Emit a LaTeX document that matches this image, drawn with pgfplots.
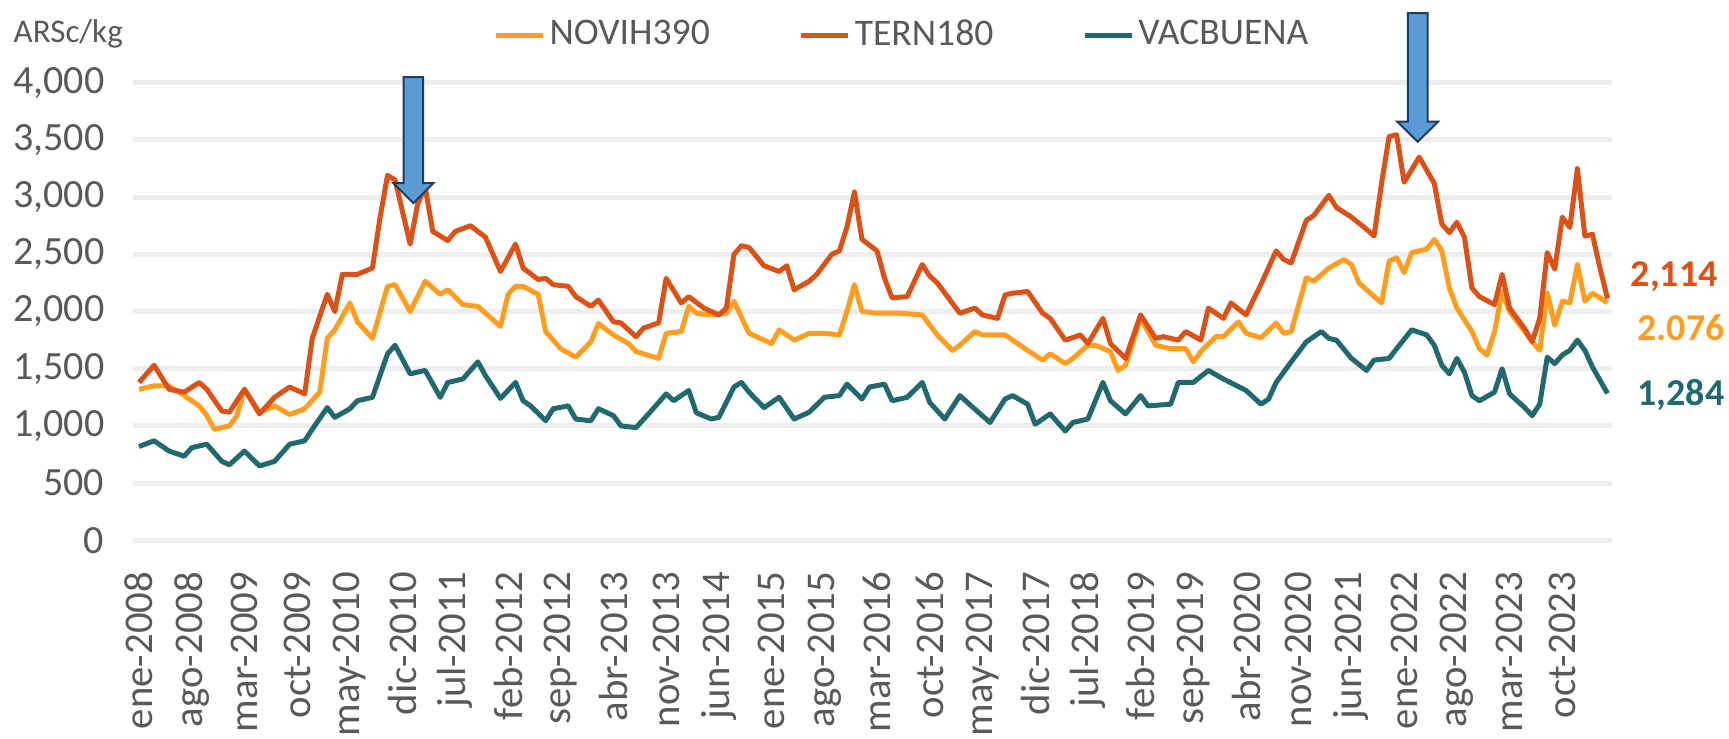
\documentclass[border=0pt]{standalone}
\usepackage{fontspec}
\setmainfont{Carlito}
\usepackage{pgfplots}
\pgfplotsset{compat=1.18}

\definecolor{cTern}{HTML}{DA5218}
\definecolor{cNovi}{HTML}{FF9E22}
\definecolor{cVac}{HTML}{22686F}
\definecolor{cGrid}{HTML}{EEEEEE}
\definecolor{cTxt}{HTML}{595959}
\definecolor{cArrow}{HTML}{5B9BD5}
\definecolor{cArrowEdge}{HTML}{1F3A5F}

% monthly prices, month 0 = ene-2008
\pgfplotstableread{
m v
0 1320
2 1350
4 1350
6 1265
8 1175
9 1090
10 970
12 1000
13 1090
14 1320
16 1120
18 1175
20 1100
22 1150
24 1295
25 1765
26 1840
28 2075
29 1910
31 1765
33 2220
34 2235
36 2000
38 2265
40 2150
41 2190
43 2060
45 2045
48 1870
49 2150
50 2220
51 2220
53 2150
54 1825
56 1675
58 1600
60 1735
61 1895
63 1795
65 1720
66 1650
69 1590
70 1810
72 1825
73 2045
74 1985
76 1970
78 1985
79 2090
81 1810
82 1780
84 1720
85 1840
87 1750
89 1810
91 1810
93 1795
94 2000
95 2235
96 2000
98 1985
101 1985
104 1970
106 1795
108 1660
109 1705
111 1825
112 1795
115 1795
117 1705
118 1660
120 1575
121 1630
123 1545
124 1590
126 1705
127 1705
129 1650
130 1485
131 1530
133 1940
135 1705
137 1675
139 1675
140 1560
141 1650
143 1780
144 1780
146 1910
147 1810
149 1770
151 1900
152 1810
153 1825
155 2295
156 2265
158 2380
160 2455
161 2410
162 2250
163 2190
165 2075
166 2440
167 2470
168 2340
169 2515
171 2545
172 2630
173 2530
174 2205
175 2030
177 1825
178 1675
179 1620
180 1825
181 2175
182 2000
184 1825
185 1735
186 1660
187 2160
188 1880
189 2090
190 2075
191 2410
192 2090
193 2160
194 2120
195 2076
}\novih

\pgfplotstableread{
m v
0 1380
2 1530
4 1320
6 1295
8 1380
9 1320
11 1130
12 1120
14 1320
16 1105
18 1250
20 1340
22 1280
23 1765
25 2150
26 2000
27 2325
29 2325
31 2380
32 2820
33 3190
34 3150
36 2590
37 2940
38 3090
39 2700
41 2620
42 2700
44 2750
46 2650
48 2350
50 2590
51 2380
53 2280
54 2290
55 2235
57 2220
58 2130
60 2045
61 2100
63 1910
64 1900
66 1780
67 1855
69 1900
70 2290
72 2075
73 2130
75 2030
77 1970
78 2030
79 2500
80 2575
81 2560
83 2400
85 2350
86 2400
87 2190
89 2265
90 2325
92 2500
93 2530
94 2735
95 3045
96 2630
98 2530
99 2290
100 2120
102 2130
104 2410
105 2310
106 2250
109 1985
111 2030
112 1970
114 1940
115 2145
116 2160
118 2175
120 1985
121 1940
123 1750
125 1795
126 1720
128 1940
129 1720
131 1590
133 1970
135 1765
136 1780
138 1750
139 1825
141 1750
142 2030
144 1940
145 2075
147 1970
149 2240
151 2530
152 2455
153 2425
155 2795
156 2840
158 3015
159 2910
161 2825
163 2720
164 2660
165 3120
166 3530
167 3545
168 3130
170 3350
172 3120
173 2765
174 2690
175 2780
176 2650
177 2205
178 2130
180 2060
181 2325
182 2030
184 1850
185 1735
186 1940
187 2515
188 2370
189 2825
190 2735
191 3250
192 2660
193 2675
194 2380
195 2114
}\tern

\pgfplotstableread{
m v
0 820
2 870
4 780
6 735
7 810
9 840
11 690
12 660
14 780
16 650
18 690
20 840
22 870
23 970
25 1160
26 1075
28 1150
29 1220
31 1250
33 1630
34 1705
36 1455
38 1485
40 1250
41 1380
43 1410
45 1560
46 1440
48 1240
50 1380
51 1220
52 1175
54 1045
55 1150
57 1175
58 1060
60 1045
61 1150
63 1090
64 1000
66 985
68 1130
70 1280
71 1220
73 1310
74 1115
76 1060
77 1075
79 1340
80 1380
81 1295
83 1160
85 1250
87 1060
89 1120
91 1250
93 1265
94 1365
96 1235
97 1340
99 1365
100 1220
102 1250
104 1380
105 1205
107 1060
109 1265
110 1205
113 1030
115 1235
116 1265
118 1190
119 1015
121 1105
123 955
124 1030
126 1060
128 1380
129 1220
131 1105
133 1265
134 1175
137 1190
138 1380
140 1380
142 1485
144 1410
147 1310
149 1190
150 1235
151 1380
153 1560
155 1735
156 1780
157 1825
158 1765
159 1750
161 1590
163 1485
164 1575
166 1590
167 1675
169 1840
171 1795
172 1705
173 1530
174 1455
175 1590
176 1470
177 1265
178 1220
180 1295
181 1500
182 1280
184 1160
185 1090
186 1190
187 1600
188 1545
189 1620
190 1660
191 1750
192 1660
193 1515
195 1284
}\vac

\begin{document}
\begin{tikzpicture}
\path[use as bounding box] (0,0) rectangle (172.9mm,73.8mm);
\node[anchor=west, inner sep=0pt, text=cTxt, font=\fontsize{9.4}{11}\selectfont] at (1.3mm,70.4mm) {ARSc/kg};
\begin{axis}[
  at={(13.3mm,19.77mm)}, anchor=south west,
  scale only axis, width=147.9mm, height=45.76mm,
  xmin=-0.8, xmax=195.6, ymin=0, ymax=4000, clip=false,
  axis line style={draw=none}, tick style={draw=none},
  ymajorgrids, grid style={cGrid, line width=0.5mm},
  ytick={0,500,...,4000}, scaled y ticks=false,
  yticklabel style={anchor=east, inner sep=0pt, xshift=-2.8mm, text=cTxt,
    font=\fontsize{11.4}{13}\selectfont,
    /pgf/number format/1000 sep={,}, /pgf/number format/assume math mode=true},
  xtick={0,7,...,189},
  xticklabels={ene-2008,ago-2008,mar-2009,oct-2009,may-2010,dic-2010,jul-2011,feb-2012,sep-2012,abr-2013,nov-2013,jun-2014,ene-2015,ago-2015,mar-2016,oct-2016,may-2017,dic-2017,jul-2018,feb-2019,sep-2019,abr-2020,nov-2020,jun-2021,ene-2022,ago-2022,mar-2023,oct-2023},
  xticklabel style={rotate=90, anchor=east, inner sep=0pt, xshift=-3.1mm, text=cTxt,
    font=\fontsize{11.6}{13}\selectfont},
  legend columns=3,
  legend image code/.code={\draw[#1, line width=0.5mm] (0mm,0mm) -- (4.7mm,0mm);},
  legend style={at={(0.2434,1.104)}, anchor=west, draw=none, fill=none, inner sep=0pt,
    font=\fontsize{10.7}{12}\selectfont, text=cTxt,
    nodes={inner sep=0.4mm},
    /tikz/every even column/.append style={column sep=8.5mm}},
  every axis plot/.append style={line width=0.5mm, line join=round},
]
\addplot[cNovi] table[x=m, y=v] {\novih};
\addplot[cTern] table[x=m, y=v] {\tern};
\addplot[cVac] table[x=m, y=v] {\vac};
\legend{NOVIH390, TERN180, VACBUENA}

\draw[fill=cArrow, draw=cArrowEdge, line width=0.2mm]
  (axis cs:35.14,4050) -- (axis cs:37.72,4050) -- (axis cs:37.72,3123) -- (axis cs:39.09,3123)
  -- (axis cs:36.43,2948) -- (axis cs:33.77,3123) -- (axis cs:35.14,3123) -- cycle;
\draw[fill=cArrow, draw=cArrowEdge, line width=0.2mm]
  (axis cs:168.5,4609) -- (axis cs:171.1,4609) -- (axis cs:171.1,3659) -- (axis cs:172.5,3659)
  -- (axis cs:169.8,3484) -- (axis cs:167.1,3659) -- (axis cs:168.5,3659) -- cycle;

\node[anchor=west, inner sep=0pt, text=cTern, font=\bfseries\fontsize{10.8}{12}\selectfont] at (axis cs:198.0,2302) {2,114};
\node[anchor=west, inner sep=0pt, text=cNovi, font=\bfseries\fontsize{10.8}{12}\selectfont] at (axis cs:198.9,1856) {2.076};
\node[anchor=west, inner sep=0pt, text=cVac, font=\bfseries\fontsize{10.8}{12}\selectfont] at (axis cs:198.9,1270) {1,284};
\end{axis}
\end{tikzpicture}
\end{document}
